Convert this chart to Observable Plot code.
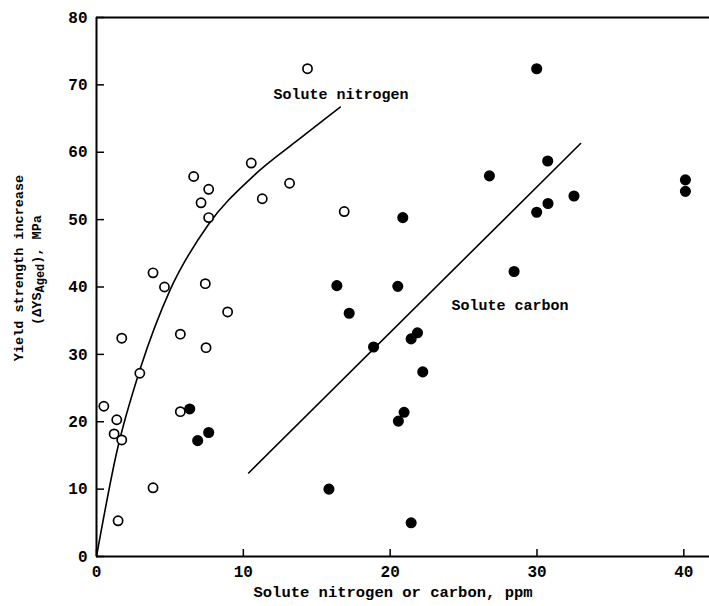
<!DOCTYPE html>
<html>
<head>
<meta charset="utf-8">
<script src="https://cdn.jsdelivr.net/npm/d3@7"></script>
<script src="https://cdn.jsdelivr.net/npm/@observablehq/plot@0.6"></script>
<style>
  html, body { margin: 0; padding: 0; background: #fff; }
</style>
</head>
<body>
<div id="chart"></div>
<script>
// Solute nitrogen (open circles)
const nitrogenX = [14.37, 10.54, 13.15, 11.29, 6.62, 7.64, 7.12, 7.64, 16.87, 3.85, 4.63, 7.41,
                   8.93, 5.71, 7.46, 1.72, 2.95, 0.50, 1.38, 5.71, 1.20, 1.72, 3.85, 1.47];
const nitrogenY = [72.4, 58.4, 55.4, 53.1, 56.4, 54.5, 52.5, 50.3, 51.2, 42.1, 40.0, 40.5,
                   36.3, 33.0, 31.0, 32.4, 27.2, 22.3, 20.3, 21.5, 18.2, 17.3, 10.2, 5.3];
// Solute carbon (filled circles)
const carbonX = [6.35, 6.89, 7.64, 15.83, 16.37, 17.21, 18.87, 20.52, 20.86, 20.56, 20.95, 21.43,
                 21.86, 22.22, 21.43, 26.76, 28.44, 29.98, 29.98, 30.75, 30.73, 32.52, 40.11, 40.11];
const carbonY = [21.9, 17.2, 18.4, 10.0, 40.2, 36.1, 31.1, 40.1, 50.3, 20.1, 21.4, 32.3,
                 33.2, 27.4, 5.0, 56.5, 42.3, 72.4, 51.1, 52.4, 58.7, 53.5, 55.9, 54.2];
// Nitrogen fit curve
const nCurveX = [0, 1.4, 3.0, 5.0, 7.6, 10.7, 13.6, 16.6];
const nCurveY = [0, 15.7, 28.0, 39.5, 49.2, 56.5, 61.6, 66.7];
// Carbon fit line
const cLineX = [10.36, 32.97];
const cLineY = [12.4, 61.3];
// Axis ticks
const xTicks = [0, 10, 20, 30, 40];
const yTicks = [0, 10, 20, 30, 40, 50, 60, 70, 80];
// Curve labels
const labelText = ["Solute nitrogen", "Solute carbon"];
const labelX = [12.06, 24.18];
const labelY = [68.6, 37.25];
const xTitle = "Solute nitrogen or carbon, ppm";
const yTitle1 = "Yield strength increase";

const nitrogen = nitrogenX.map((x, i) => ({x, y: nitrogenY[i]}));
const carbon = carbonX.map((x, i) => ({x, y: carbonY[i]}));
const nCurve = nCurveX.map((x, i) => ({x, y: nCurveY[i]}));
const cLine = cLineX.map((x, i) => ({x, y: cLineY[i]}));
const labels = labelText.map((t, i) => ({t, x: labelX[i], y: labelY[i]}));

const font = "'Liberation Mono', monospace";

const chart = Plot.plot({
  width: 709,
  height: 606,
  marginLeft: 96,
  marginRight: 0,
  marginTop: 17,
  marginBottom: 50,
  style: {fontFamily: font, background: "white", color: "black", overflow: "visible"},
  x: {domain: [0, 41.75]},
  y: {domain: [0, 80]},
  marks: [
    Plot.ruleY([0, 80], {stroke: "black", strokeWidth: 2}),
    Plot.ruleX([0], {stroke: "black", strokeWidth: 2}),
    Plot.axisX({ticks: xTicks, tickSize: -7, tickPadding: 16, strokeWidth: 1.5, label: null,
                fontSize: 16, fontWeight: "bold", tickFormat: d => String(d)}),
    Plot.axisY({ticks: yTicks, tickSize: -8, tickPadding: 17, strokeWidth: 1.5, label: null,
                fontSize: 16, fontWeight: "bold", tickFormat: d => String(d)}),
    Plot.line(nCurve, {x: "x", y: "y", curve: "monotone-x", stroke: "black", strokeWidth: 1.6}),
    Plot.line(cLine, {x: "x", y: "y", stroke: "black", strokeWidth: 1.6}),
    Plot.dot(nitrogen, {x: "x", y: "y", r: 4.6, stroke: "black", strokeWidth: 1.7, fill: "white"}),
    Plot.dot(carbon, {x: "x", y: "y", r: 4.8, fill: "black", stroke: "black"}),
    Plot.text(labels, {x: "x", y: "y", text: "t", textAnchor: "start", fontSize: 15,
                       fontWeight: "bold", fill: "black"}),
    Plot.text([xTitle], {frameAnchor: "bottom", dy: 40, dx: -10, fontSize: 15.5,
                         fontWeight: "bold", fill: "black"})
  ]
});

const svg = d3.select(chart);
svg.append("text")
  .attr("transform", "translate(19,268) rotate(-90)")
  .attr("text-anchor", "middle")
  .attr("dominant-baseline", "central")
  .attr("font-family", font)
  .attr("font-weight", "bold")
  .attr("font-size", 13.5)
  .attr("fill", "black")
  .text(yTitle1);
const t2 = svg.append("text")
  .attr("transform", "translate(37,270) rotate(-90)")
  .attr("text-anchor", "middle")
  .attr("dominant-baseline", "central")
  .attr("font-family", font)
  .attr("font-weight", "bold")
  .attr("font-size", 13.5)
  .attr("fill", "black");
t2.append("tspan").text("(\u0394YS");
t2.append("tspan").attr("dy", 4).attr("font-size", 12).text("Aged");
t2.append("tspan").attr("dy", -4).text("), MPa");

document.getElementById("chart").appendChild(chart);
</script>
</body>
</html>
